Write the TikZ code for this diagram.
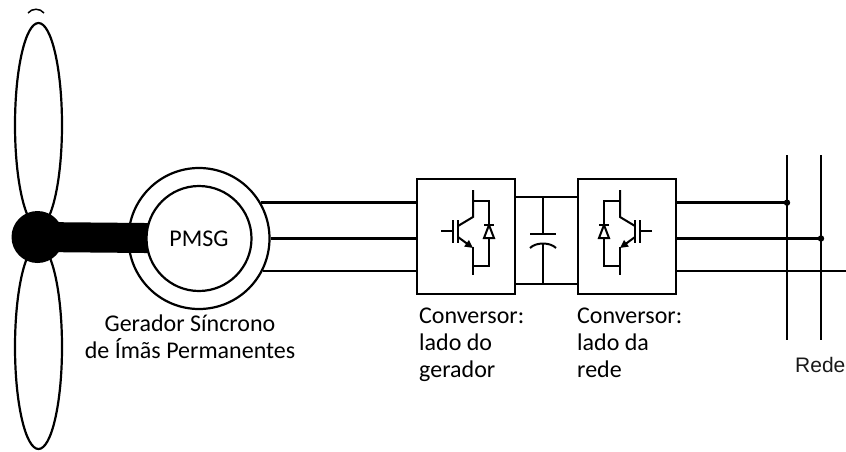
\documentclass[tikz,border=0pt]{standalone}
\usepackage{fontspec}
\setmainfont{Carlito}
\newfontfamily\arialfont{Liberation Sans}
\usetikzlibrary{arrows.meta,shapes.geometric}

\tikzset{
  wire/.style={line width=2.8pt},
  sw/.style={line width=2pt},
  blade/.style={draw, ellipse, line width=2.2pt, minimum width=47pt, minimum height=204pt, inner sep=0pt},
  ring/.style={draw, circle, fill=white, line width=2.2pt, inner sep=0pt},
  convbox/.style={draw, fill=white, line width=2.2pt, minimum width=98pt, minimum height=115pt, inner sep=0pt},
  lbl/.style={inner sep=0pt, align=left, font={\fontsize{24}{27}\selectfont}},
  igbt/.pic={
    % gate lead and the two gate bars
    \draw[sw] (-25,-5.5) -- (-13,-5.5);
    \draw[sw] (-13,-16.5) -- (-13,6.5);
    \draw[sw] (-8,-16.5) -- (-8,6.5);
    % collector
    \draw[sw] (-8,-10.5) -- (7,-19.5) -- (7,-46.5);
    % emitter with its arrow
    \draw[sw,-{Triangle[length=8pt,width=7.5pt]}] (-8,0.5) -- (7,11.5);
    \draw[sw] (7,10) -- (7,38.5);
    % antiparallel diode
    \draw[sw] (7,-35.5) -- (23,-35.5) -- (23,29.5) -- (7,29.5);
    \draw[sw,fill=white] (23,-11.5) -- (18,1.5) -- (28,1.5) -- cycle;
    \draw[sw] (18,-11.5) -- (28,-11.5);
  }
}

\begin{document}
\begin{tikzpicture}[x=1pt,y=-1pt]
\useasboundingbox (0,0) rectangle (846,451);

% rotor blades
\node[blade] (bladeA) at (38.5,125) {};
\node[blade] (bladeB) at (38.5,347) {};
\draw[line width=1.5pt] (28,13) .. controls (32,8) and (40,8) .. (44,13);

% generator
\coordinate (gc) at (199,238.5);
\node[ring, minimum size=141pt] (gen) at (gc) {};
\coordinate (hc) at (37.5,237);
\draw[line width=30pt] (hc) -- (gc);
\node[ring, minimum size=105pt, font={\fontsize{24}{27}\selectfont}] (rotor) at (gc) {PMSG};
\node[circle, fill=black, minimum size=52pt, inner sep=0pt] (hub) at (hc) {};

% the base anchor of a multi-line node sits on its last line
\node[lbl, align=center, anchor=base] (genlbl) at (190,358) {Gerador Síncrono\\de Ímãs Permanentes};

% converters
\node[convbox] (conv1) at (466,236.5) {};
\node[convbox] (conv2) at (627,236.5) {};
\pic at (conv1.center) {igbt};
\pic[xscale=-1] at (conv2.center) {igbt};

\node[lbl, anchor=base west] (c1lbl) at (419,377) {Conversor:\\lado do\\gerador};
\node[lbl, anchor=base west] (c2lbl) at (577,377) {Conversor:\\lado da\\rede};

% generator to converter
\draw[wire] (gen.30) -- (gen.30 -| conv1.west);
\draw[wire] (gen.east) -- (gen.east -| conv1.west);
\draw[wire] (gen.-27.5) -- (gen.-27.5 -| conv1.west);

% DC link with capacitor
\draw[wire] (conv1.east |- 0,197) -- (conv2.west |- 0,197);
\draw[wire] (conv1.east |- 0,284) -- (conv2.west |- 0,284);
\coordinate (capT) at (543,197);
\coordinate (capB) at (543,284);
\draw[sw] (capT) -- (543,234);
\draw[sw] (530,234) -- (556,234);
\draw[sw] (530,248) .. controls (536,242) and (550,242) .. (556,248);
\draw[sw] (543,244) -- (capB);

% grid
\coordinate (b1t) at (787,155);
\coordinate (b1b) at (787,340);
\coordinate (b2t) at (821,155);
\coordinate (b2b) at (821,340);
\coordinate (edge) at (846,0);
\draw[wire] (b1t) -- (b1b);
\draw[wire] (b2t) -- (b2b);
\draw[wire] (conv2.east |- gen.30) -- (b1t |- gen.30);
\fill (b1t |- gen.30) circle (3.2pt);
\draw[wire] (conv2.east |- gen.east) -- (b2t |- gen.east);
\fill (b2t |- gen.east) circle (3.2pt);
\draw[wire] (conv2.east |- gen.-27.5) -- (edge |- gen.-27.5);

\node[inner sep=0pt, anchor=base west, font={\arialfont\fontsize{21}{25}\selectfont}, text=black!90] (rede) at (795,372) {Rede};
\end{tikzpicture}
\end{document}
